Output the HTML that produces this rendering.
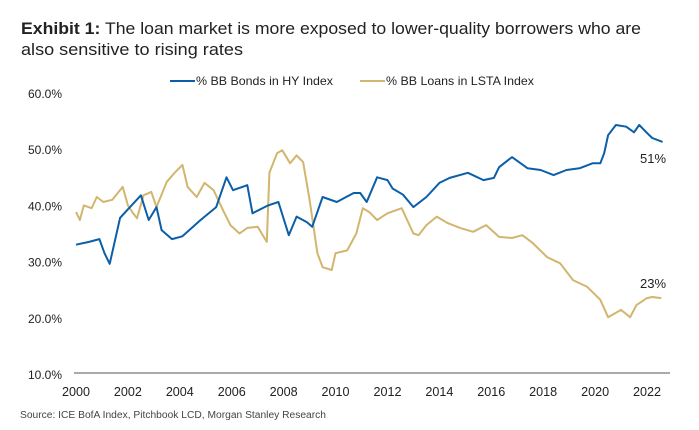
<!DOCTYPE html>
<html><head><meta charset="utf-8"><style>
html,body{margin:0;padding:0;background:#fff;}
svg{display:block;font-family:"Liberation Sans Narrow","Liberation Sans",sans-serif;}
</style></head><body>
<svg id="chart" width="699" height="430" viewBox="0 0 699 430" xmlns="http://www.w3.org/2000/svg">
<text x="21" y="34" font-size="17" fill="#222" textLength="620" lengthAdjust="spacingAndGlyphs"><tspan font-weight="bold">Exhibit 1:</tspan> The loan market is more exposed to lower-quality borrowers who are</text>
<text x="21" y="55" font-size="17" fill="#222" textLength="222" lengthAdjust="spacingAndGlyphs">also sensitive to rising rates</text>
<g>
<line x1="170" y1="81" x2="195" y2="81" stroke="#0b5ea8" stroke-width="2"/>
<text x="196" y="85" font-size="12" fill="#222" textLength="137" lengthAdjust="spacingAndGlyphs">% BB Bonds in HY Index</text>
<line x1="360" y1="81" x2="385" y2="81" stroke="#d2b56e" stroke-width="2"/>
<text x="386" y="85" font-size="12" fill="#222" textLength="148" lengthAdjust="spacingAndGlyphs">% BB Loans in LSTA Index</text>
</g>
<g id="yaxis"></g>
<g id="xaxis"></g>
<line x1="74" y1="373" x2="670" y2="373" stroke="#777" stroke-width="1.3"/>
<g id="series"></g>
<text x="640" y="163" font-size="13" fill="#222">51%</text>
<text x="640" y="288" font-size="13" fill="#222">23%</text>
<text x="20" y="418" font-size="10" fill="#444" textLength="306" lengthAdjust="spacingAndGlyphs">Source: ICE BofA Index, Pitchbook LCD, Morgan Stanley Research</text>
</svg>
<script>
const yTicks=[10,20,30,40,50,60];
const xTicks=[2000,2002,2004,2006,2008,2010,2012,2014,2016,2018,2020,2022];
const bondDates=[2000,2000.5,2000.9,2001.1,2001.3,2001.7,2002.5,2002.8,2003.1,2003.3,2003.7,2004.1,2004.8,2005.4,2005.8,2006.05,2006.6,2006.8,2007.4,2007.8,2008.2,2008.5,2008.9,2009.1,2009.5,2010.05,2010.7,2010.95,2011.2,2011.6,2012,2012.2,2012.6,2013,2013.5,2014,2014.4,2015.1,2015.7,2016.1,2016.3,2016.8,2017.4,2017.9,2018.4,2018.9,2019.4,2019.9,2020.2,2020.35,2020.5,2020.8,2021.2,2021.5,2021.7,2022,2022.2,2022.6];
const bondValues=[33,33.5,34,31.5,29.6,37.8,41.8,37.4,39.7,35.6,34,34.5,37.4,39.7,45,42.7,43.6,38.6,40,40.6,34.7,38,37,36.2,41.5,40.6,42.2,42.2,40.6,45,44.5,43,41.9,39.7,41.5,44,44.9,45.8,44.5,44.9,46.8,48.6,46.6,46.3,45.4,46.3,46.6,47.5,47.5,49.3,52.5,54.3,54,53,54.3,52.9,52,51.3];
const loanDates=[2000,2000.15,2000.3,2000.6,2000.8,2001.05,2001.4,2001.8,2002,2002.2,2002.35,2002.6,2002.9,2003.1,2003.5,2003.8,2004.1,2004.3,2004.65,2004.95,2005.3,2005.7,2005.95,2006.3,2006.6,2007,2007.35,2007.45,2007.75,2007.95,2008.25,2008.5,2008.75,2009,2009.3,2009.5,2009.85,2010,2010.45,2010.8,2011.05,2011.3,2011.6,2012,2012.55,2013,2013.2,2013.5,2013.9,2014.3,2014.8,2015.3,2015.8,2016.3,2016.8,2017.2,2017.6,2018.15,2018.65,2019.15,2019.7,2020.2,2020.5,2021,2021.35,2021.6,2022,2022.2,2022.55];
const loanValues=[38.8,37.4,40,39.5,41.5,40.6,41,43.3,40,38.6,37.7,41.8,42.4,39.7,44.2,45.8,47.2,43.3,41.5,44,42.7,38.8,36.5,35,36,36.2,33.5,45.8,49.3,49.8,47.5,48.9,47.7,41,31.5,29,28.5,31.5,32,35,39.5,38.8,37.4,38.6,39.5,35,34.7,36.5,38,36.9,36,35.3,36.5,34.4,34.2,34.7,33.3,30.8,29.7,26.7,25.5,23.2,20.1,21.4,20.1,22.3,23.5,23.7,23.5];
const NS='http://www.w3.org/2000/svg';
function xs(d){return 76+(d-2000)*(647-76)/22;}
function ys(v){return 374-(v-10)*(374-93)/50;}
const ya=document.getElementById('yaxis');
yTicks.forEach(t=>{const e=document.createElementNS(NS,'text');


e.setAttribute('x',62);e.setAttribute('y',ys(t)+5);e.setAttribute('text-anchor','end');e.setAttribute('font-size','12');e.setAttribute('fill','#222');e.setAttribute('textLength','34');e.setAttribute('lengthAdjust','spacingAndGlyphs');e.textContent=t.toFixed(1)+'%';ya.appendChild(e);});
const xa=document.getElementById('xaxis');
xTicks.forEach(t=>{const e=document.createElementNS(NS,'text');


e.setAttribute('x',xs(t)-14);e.setAttribute('y',396);e.setAttribute('font-size','13');e.setAttribute('fill','#222');e.setAttribute('textLength','28');e.setAttribute('lengthAdjust','spacingAndGlyphs');e.textContent=t;xa.appendChild(e);});
const sg=document.getElementById('series');
function line(ds,vs,col,name){const p=document.createElementNS(NS,'polyline');


p.setAttribute('points',ds.map((d,i)=>xs(d).toFixed(1)+','+ys(vs[i]).toFixed(1)).join(' '));
p.setAttribute('fill','none');p.setAttribute('stroke',col);p.setAttribute('stroke-width','2');p.setAttribute('stroke-linejoin','round');sg.appendChild(p);}
line(loanDates,loanValues,'#d2b56e','loans-line');
line(bondDates,bondValues,'#0b5ea8','bonds-line');
</script>
</body></html>
